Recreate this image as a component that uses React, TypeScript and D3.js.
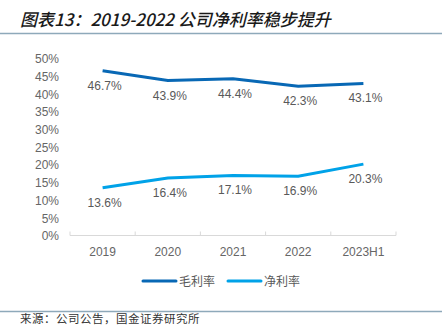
import React from "react";
import * as d3 from "d3";

const categories = ["2019", "2020", "2021", "2022", "2023H1"];
const grossMargin = [46.7, 43.9, 44.4, 42.3, 43.1];
const netMargin = [13.6, 16.4, 17.1, 16.9, 20.3];
const yTicks = [0, 5, 10, 15, 20, 25, 30, 35, 40, 45, 50];
const seriesNames = ["毛利率", "净利率"];

const W = 442;
const H = 327;
const COLORS = ["#0868b5", "#00a2e8"];
const FONT = "Arial, 'Liberation Sans', 'Noto Sans CJK SC', sans-serif";
const CJK = "'Noto Sans CJK SC', sans-serif";

export default function App() {
  const x = d3.scaleBand<string>().domain(categories).range([70, 396]);
  const y = d3.scaleLinear().domain([0, 50]).range([236, 59]);
  const cx = (c: string) => (x(c) ?? 0) + x.bandwidth() / 2;
  const line = d3
    .line<number>()
    .x((_, i) => cx(categories[i]))
    .y((d) => y(d));
  const series = [grossMargin, netMargin];
  const tickXs = [...categories.map((c) => x(c) ?? 0), 396];

  return (
    <svg
      width={W}
      height={H}
      style={{ position: "absolute", left: 0, top: 0, background: "#fff" }}
    >
      <rect width={W} height={H} fill="#fff" />
      <text
        x={20}
        y={26}
        fontFamily={CJK}
        fontSize={17}
        fontStyle="italic"
        fontWeight={500}
        fill="#1a1a1a"
      >
        图表13：2019-2022 公司净利率稳步提升
      </text>
      <line x1={0} x2={442} y1={33.5} y2={33.5} stroke="#8ea9ba" strokeWidth={1.5} />

      {yTicks.map((t) => (
        <text
          key={t}
          x={59}
          y={y(t)}
          dy="0.35em"
          textAnchor="end"
          fontFamily={FONT}
          fontSize={12}
          fill="#666"
        >
          {t}%
        </text>
      ))}

      <line x1={70} x2={396} y1={235.5} y2={235.5} stroke="#d9d9d9" strokeWidth={1} />
      {tickXs.map((tx, i) => (
        <line key={i} x1={tx} x2={tx} y1={231.5} y2={235.5} stroke="#d9d9d9" strokeWidth={1} />
      ))}
      {categories.map((c) => (
        <text
          key={c}
          x={cx(c)}
          y={256}
          textAnchor="middle"
          fontFamily={FONT}
          fontSize={12}
          fill="#666"
        >
          {c}
        </text>
      ))}

      {series.map((s, si) => (
        <g key={si}>
          <path d={line(s) ?? ""} fill="none" stroke={COLORS[si]} strokeWidth={3} />
          {s.map((v, i) => (
            <text
              key={i}
              x={cx(categories[i]) + 2}
              y={y(v) + 19}
              textAnchor="middle"
              fontFamily={FONT}
              fontSize={12}
              fill="#595959"
            >
              {v.toFixed(1)}%
            </text>
          ))}
        </g>
      ))}

      {seriesNames.map((n, i) => {
        const lx = 143 + i * 85;
        return (
          <g key={n}>
            <line x1={lx} x2={lx + 33} y1={281} y2={281} stroke={COLORS[i]} strokeWidth={3} strokeLinecap="round" />
            <text x={lx + 36} y={285.5} fontFamily={CJK} fontSize={12} fill="#595959">
              {n}
            </text>
          </g>
        );
      })}

      <line x1={0} x2={442} y1={311.5} y2={311.5} stroke="#8ea9ba" strokeWidth={1.5} />
      <text x={20} y={323} fontFamily={CJK} fontSize={11.5} fontWeight={400} letterSpacing={0.5} fill="#333">
        来源：公司公告，国金证券研究所
      </text>
    </svg>
  );
}
